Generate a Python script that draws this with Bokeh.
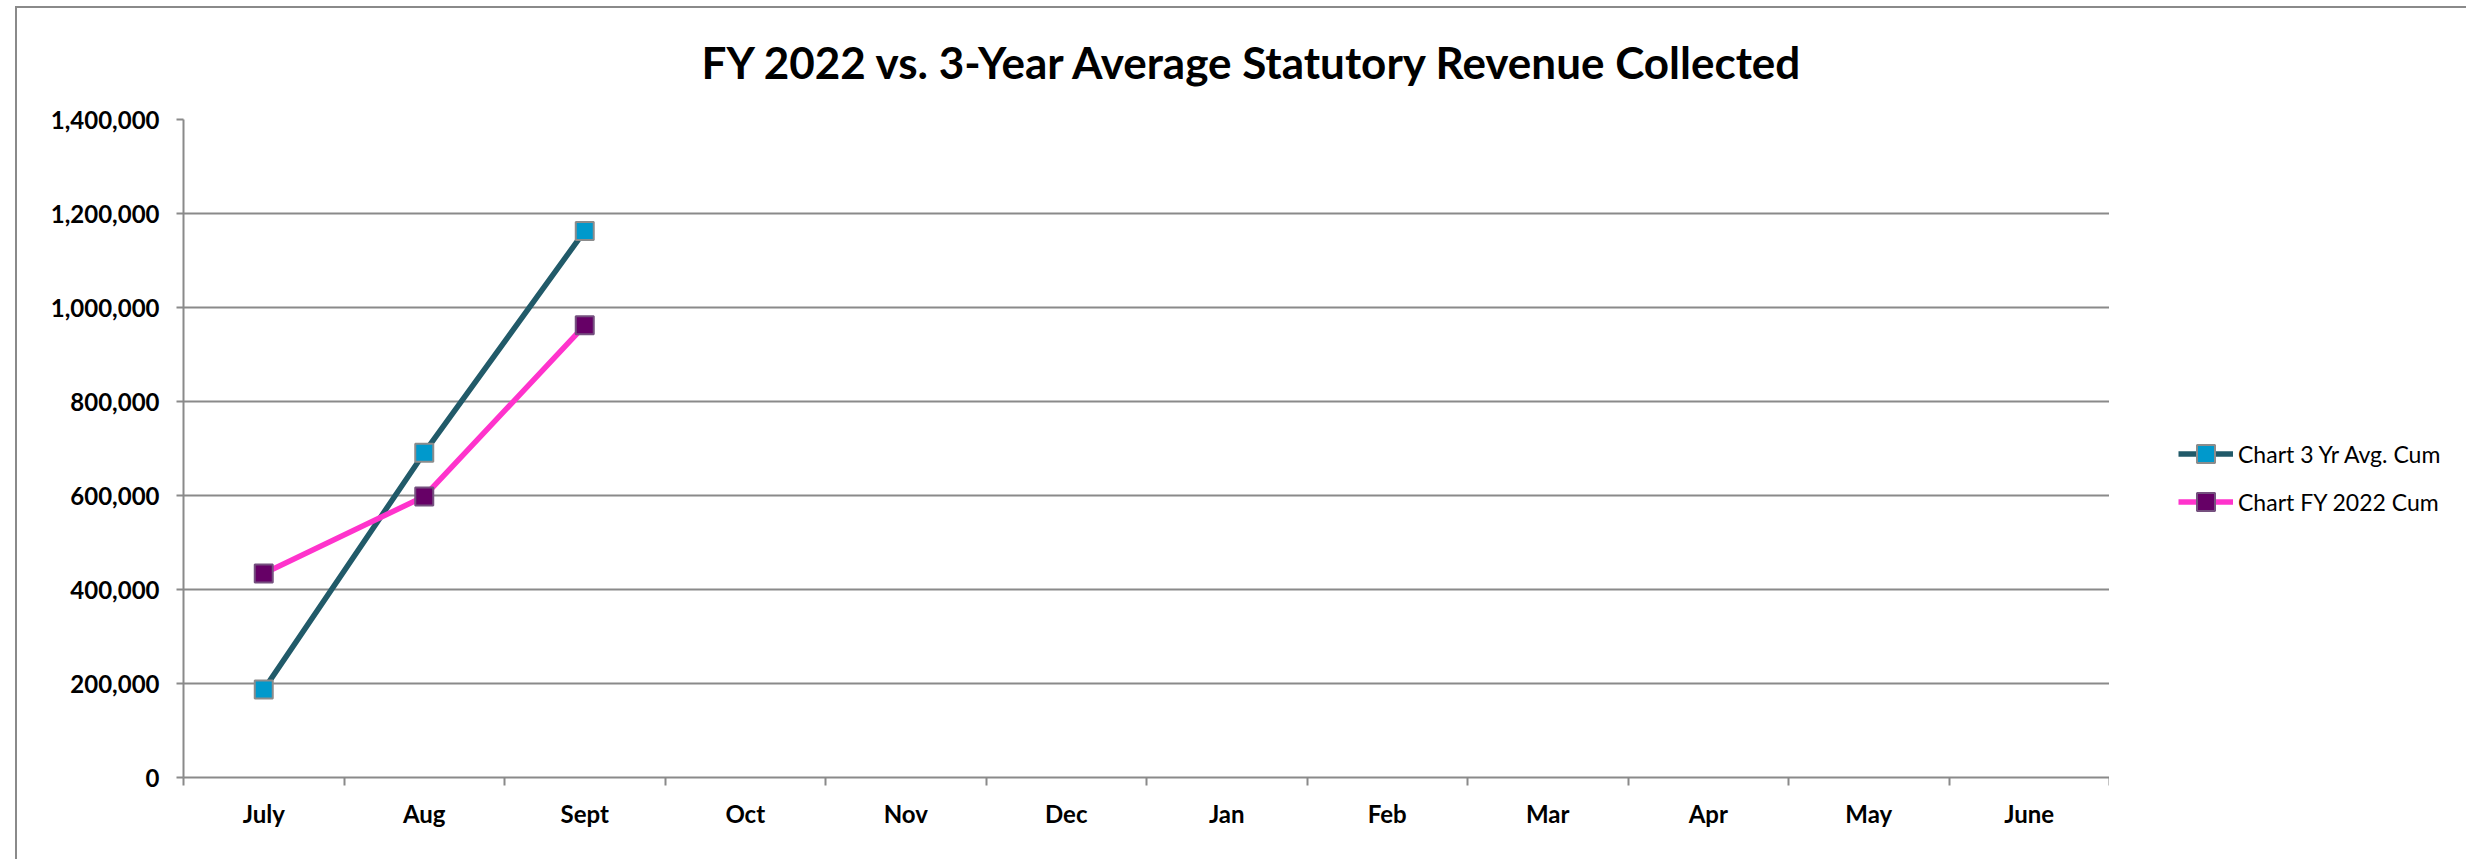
from bokeh.plotting import figure
from bokeh.layouts import row
from bokeh.models import (Range1d, FixedTicker, NumeralTickFormatter, Legend, LegendItem)
from bokeh.embed import file_html
from bokeh.resources import INLINE

# ---- data ----
months = ["July", "Aug", "Sept", "Oct", "Nov", "Dec", "Jan", "Feb", "Mar", "Apr", "May", "June"]
avg_3yr_cum = [187000, 691000, 1163000]
fy2022_cum = [434000, 598000, 962000]
y_ticks = [0, 200000, 400000, 600000, 800000, 1000000, 1200000, 1400000]
series_labels = ["Chart 3 Yr Avg. Cum", "Chart FY 2022 Cum"]
title_text = "FY 2022 vs. 3-Year Average Statutory Revenue Collected"

GRAY = "#8a8a8a"
FONT = "Lato"
AVG_LINE, AVG_FILL, AVG_EDGE = "#215a69", "#0099cc", "#8c8c8c"
FY_LINE, FY_FILL, FY_EDGE = "#ff33cc", "#660066", "#75507f"
LW = 5.5

p = figure(width=2109, height=859, output_backend="svg", toolbar_location=None,
           x_range=Range1d(0, len(months)), y_range=Range1d(0, y_ticks[-1]),
           min_border_left=183, min_border_right=0, min_border_top=119, min_border_bottom=82)
p.border_fill_color = None
p.background_fill_color = "white"
p.outline_line_color = None

# title
p.title.text = title_text
p.title.text_font = FONT
p.title.text_font_style = "bold"
p.title.text_font_size = "44px"
p.title.text_color = "black"
p.title.align = "left"
p.title.offset = 518
p.title.standoff = 64

# x axis: labels at category centers, ticks at category boundaries
centers = [i + 0.5 for i in range(len(months))]
bounds = [float(i) for i in range(len(months) + 1)]
xa = p.xaxis[0]
xa.ticker = FixedTicker(ticks=centers, minor_ticks=bounds)
xa.major_label_overrides = {c: m for c, m in zip(centers, months)}
xa.major_tick_out = 0
xa.major_tick_in = 0
xa.major_tick_line_color = None
xa.minor_tick_out = 8
xa.minor_tick_in = 0
xa.minor_tick_line_color = GRAY
xa.minor_tick_line_width = 2
xa.axis_line_color = GRAY
xa.axis_line_width = 2
xa.major_label_standoff = 13
xa.major_label_text_font = FONT
xa.major_label_text_font_style = "bold"
xa.major_label_text_font_size = "24px"
xa.major_label_text_color = "black"

ya = p.yaxis[0]
ya.ticker = FixedTicker(ticks=y_ticks)
ya.formatter = NumeralTickFormatter(format="0,0")
ya.major_tick_out = 7
ya.major_tick_in = 0
ya.major_tick_line_color = GRAY
ya.major_tick_line_width = 2
ya.minor_tick_line_color = None
ya.axis_line_color = GRAY
ya.axis_line_width = 2
ya.major_label_standoff = 17
ya.major_label_text_font = FONT
ya.major_label_text_font_style = "bold"
ya.major_label_text_font_size = "24px"
ya.major_label_text_color = "black"

p.xgrid.grid_line_color = None
p.ygrid.ticker = FixedTicker(ticks=y_ticks)
p.ygrid.grid_line_color = GRAY
p.ygrid.grid_line_width = 2

# series
xa_vals = centers[:len(avg_3yr_cum)]
xf_vals = centers[:len(fy2022_cum)]
p.line(xa_vals, avg_3yr_cum, line_color=AVG_LINE, line_width=LW)
p.scatter(xa_vals, avg_3yr_cum, marker="square", size=18, fill_color=AVG_FILL,
          line_color=AVG_EDGE, line_width=2)
p.line(xf_vals, fy2022_cum, line_color=FY_LINE, line_width=LW)
p.scatter(xf_vals, fy2022_cum, marker="square", size=18, fill_color=FY_FILL,
          line_color=FY_EDGE, line_width=2)

# legend panel (separate figure to the right of the plot area)
lp = figure(width=357, height=859, output_backend="svg", toolbar_location=None,
            x_axis_location=None, y_axis_location=None,
            x_range=Range1d(-20, -19), y_range=Range1d(-20, -19),
            min_border=0, min_border_left=0, min_border_right=0,
            min_border_top=0, min_border_bottom=0)
lp.border_fill_color = None
lp.background_fill_color = None
lp.outline_line_color = None
lp.grid.visible = False
k1 = lp.line(xa_vals, avg_3yr_cum, line_color=AVG_LINE, line_width=LW)
m1 = lp.scatter(xa_vals, avg_3yr_cum, marker="square", size=18, fill_color=AVG_FILL,
                line_color=AVG_EDGE, line_width=2)
k2 = lp.line(xf_vals, fy2022_cum, line_color=FY_LINE, line_width=LW)
m2 = lp.scatter(xf_vals, fy2022_cum, marker="square", size=18, fill_color=FY_FILL,
                line_color=FY_EDGE, line_width=2)

legend = Legend(items=[LegendItem(label=series_labels[0], renderers=[k1, m1]),
                       LegendItem(label=series_labels[1], renderers=[k2, m2])],
                location=(69, 253), orientation="vertical")
legend.glyph_width = 55
legend.glyph_height = 45
legend.label_height = 45
legend.label_standoff = 5
legend.padding = 0
legend.margin = 0
legend.spacing = 3
legend.border_line_color = None
legend.background_fill_alpha = 0
legend.label_text_font = FONT
legend.label_text_font_size = "23px"
legend.label_text_color = "black"
lp.add_layout(legend, "center")

layout = row(p, lp, spacing=0,
             styles={"box-shadow": "inset 15px 6px 0 0 #ffffff, inset 17px 8px 0 0 #8a8a8a"})

open("out.html", "w").write(file_html(layout, INLINE))
